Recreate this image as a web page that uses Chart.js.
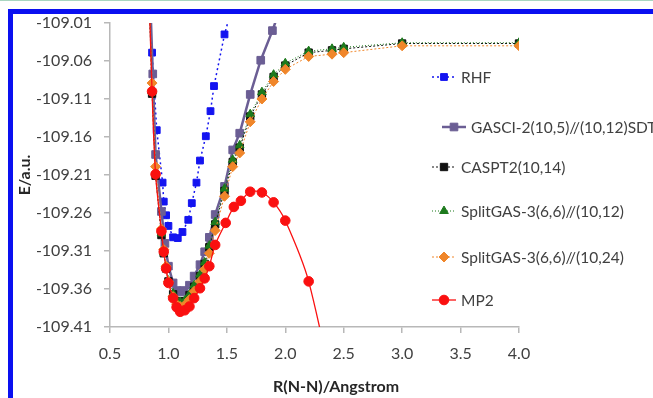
<!DOCTYPE html>
<html>
<head>
<meta charset="utf-8">
<script src="https://cdn.jsdelivr.net/npm/chart.js@4.4.1/dist/chart.umd.min.js"></script>
<style>
  html, body { margin: 0; padding: 0; background: #fff; }
  #wrap { position: relative; width: 653px; height: 398px; overflow: hidden; }
  canvas { position: absolute; left: 0; top: 0; }
  .edge { position: absolute; background: #0a10f0; }
  #topline { position: absolute; left: 0; top: 0; width: 653px; height: 1px; background: #a9d6c0; }
</style>
</head>
<body>
<div id="wrap">
  <canvas id="grafico" width="653" height="398"></canvas>
  <div id="topline"></div>
  <div class="edge" style="left:8px;top:9px;width:645px;height:5px"></div>
  <div class="edge" style="left:8px;top:9px;width:5px;height:389px"></div>
</div>
<script>
// eixos
const xTicks = [0.5, 1.0, 1.5, 2.0, 2.5, 3.0, 3.5, 4.0];
const yTicks = [-109.41, -109.36, -109.31, -109.26, -109.21, -109.16, -109.11, -109.06, -109.01];

const nomes = ['RHF', 'GASCI-2(10,5)//(10,12)SDT', 'CASPT2(10,14)', 'SplitGAS-3(6,6)//(10,12)', 'SplitGAS-3(6,6)//(10,24)', 'MP2'];

// RHF
const rhfR = [0.86, 0.90, 0.95, 0.96, 0.98, 1.00, 1.04, 1.08, 1.12, 1.17, 1.20, 1.24, 1.27, 1.32, 1.36, 1.39, 1.48, 1.60];
const rhfE = [-109.049, -109.151, -109.220, -109.245, -109.263, -109.277, -109.292, -109.293, -109.285, -109.269, -109.247, -109.220, -109.191, -109.159, -109.126, -109.093, -109.025, -108.958];

// GASCI
const gasciR = [0.80, 0.866, 0.89, 0.94, 0.97, 1.00, 1.04, 1.07, 1.10, 1.13, 1.18, 1.22, 1.27, 1.31, 1.35, 1.40, 1.48, 1.55, 1.61, 1.70, 1.79, 1.89, 2.00];
const gasciE = [-108.78, -109.077, -109.183, -109.258, -109.300, -109.330, -109.352, -109.362, -109.364, -109.362, -109.355, -109.343, -109.328, -109.311, -109.292, -109.262, -109.225, -109.177, -109.155, -109.104, -109.059, -109.020, -108.972];

// CASPT2
const casR = [0.80, 0.86, 0.89, 0.94, 0.96, 0.98, 1.00, 1.04, 1.07, 1.10, 1.14, 1.18, 1.22, 1.27, 1.31, 1.35, 1.40, 1.48, 1.55, 1.61, 1.70, 1.80, 1.90, 2.00, 2.20, 2.40, 2.50, 3.00, 4.00];
const casE = [-108.80, -109.103, -109.211, -109.289, -109.313, -109.333, -109.350, -109.367, -109.376, -109.378, -109.376, -109.368, -109.357, -109.343, -109.327, -109.305, -109.275, -109.231, -109.193, -109.174, -109.133, -109.104, -109.081, -109.066, -109.049, -109.046, -109.044, -109.037, -109.037];

// SplitGAS (10,12)
const sg12R = [0.80, 0.86, 0.89, 0.94, 0.96, 0.98, 1.00, 1.04, 1.07, 1.10, 1.14, 1.18, 1.22, 1.27, 1.31, 1.35, 1.40, 1.48, 1.55, 1.61, 1.70, 1.80, 1.90, 2.00, 2.20, 2.40, 2.50, 3.00, 4.00];
const sg12E = [-108.80, -109.100, -109.208, -109.287, -109.312, -109.332, -109.349, -109.366, -109.375, -109.377, -109.375, -109.367, -109.355, -109.341, -109.325, -109.303, -109.272, -109.228, -109.190, -109.171, -109.130, -109.101, -109.078, -109.063, -109.047, -109.044, -109.042, -109.036, -109.036];

// SplitGAS (10,24)
const sg24R = [0.80, 0.86, 0.89, 0.94, 0.96, 0.98, 1.00, 1.04, 1.07, 1.10, 1.14, 1.18, 1.22, 1.27, 1.31, 1.35, 1.40, 1.48, 1.55, 1.61, 1.70, 1.80, 1.90, 2.00, 2.20, 2.40, 2.50, 3.00, 4.00];
const sg24E = [-108.79, -109.089, -109.199, -109.281, -109.308, -109.330, -109.350, -109.370, -109.380, -109.383, -109.381, -109.374, -109.363, -109.350, -109.334, -109.313, -109.283, -109.238, -109.199, -109.181, -109.140, -109.110, -109.087, -109.071, -109.054, -109.051, -109.049, -109.040, -109.040];

// MP2
const mp2R = [0.80, 0.86, 0.89, 0.94, 0.96, 0.98, 1.00, 1.04, 1.07, 1.10, 1.14, 1.18, 1.22, 1.27, 1.31, 1.35, 1.40, 1.49, 1.56, 1.62, 1.70, 1.80, 1.90, 2.00, 2.20, 2.50];
const mp2E = [-108.80, -109.100, -109.209, -109.284, -109.311, -109.333, -109.352, -109.372, -109.384, -109.390, -109.388, -109.383, -109.372, -109.359, -109.346, -109.330, -109.302, -109.273, -109.252, -109.244, -109.232, -109.233, -109.246, -109.270, -109.350, -109.560];

const pontos = (rs, es) => rs.map((r, i) => ({ x: r, y: es[i] }));

const fonte = 'Lato, "Open Sans", sans-serif';
const corTexto = '#404040';
const corEixo = '#b8b8b8';

function serie(i, dados, cor, estilo, raio, largura, tracejado, ordem, tensao) {
  return {
    label: nomes[i],
    data: dados,
    borderColor: cor,
    backgroundColor: cor,
    pointBackgroundColor: cor,
    pointBorderColor: cor,
    pointBorderWidth: 1,
    pointStyle: estilo,
    pointRadius: raio,
    pointHoverRadius: raio,
    borderWidth: largura,
    borderDash: tracejado,
    tension: tensao || 0,
    order: ordem,
    showLine: true
  };
}

const datasets = [
  serie(0, pontos(rhfR, rhfE), '#1414f0', 'rect', 4.8, 1.5, [2, 3], 6),
  serie(1, pontos(gasciR, gasciE), '#6b5e94', 'rect', 5.4, 2.5, [], 5),
  serie(2, pontos(casR, casE), '#111111', 'rect', 5.2, 1, [2, 2], 4),
  serie(3, pontos(sg12R, sg12E), '#1d7a1d', 'triangle', 5, 1, [1, 2], 3),
  serie(4, pontos(sg24R, sg24E), '#f0862a', 'rectRot', 5, 1, [2, 2], 2),
  serie(5, pontos(mp2R, mp2E), '#fa1010', 'circle', 4.8, 1.3, [], 1, 0.3)
];

// legenda e titulos dos eixos desenhados a mao
const legendaY = [77, 127, 167, 211, 257, 300];
const pluginLegenda = {
  id: 'legendaExcel',
  afterDraw(chart) {
    const ctx = chart.ctx;
    ctx.save();
    datasets.forEach((ds, i) => {
      const y = legendaY[i];
      const x1 = i === 1 ? 442 : 432;
      const x2 = x1 + 24;
      ctx.beginPath();
      ctx.strokeStyle = ds.borderColor;
      ctx.lineWidth = ds.borderWidth;
      ctx.setLineDash(ds.borderDash);
      ctx.moveTo(x1, y);
      ctx.lineTo(x2, y);
      ctx.stroke();
      ctx.setLineDash([]);
      ctx.fillStyle = ds.borderColor;
      ctx.strokeStyle = ds.borderColor;
      ctx.lineWidth = 1;
      Chart.helpers.drawPoint(ctx, { pointStyle: ds.pointStyle, radius: ds.pointRadius, rotation: 0, borderWidth: 1 }, (x1 + x2) / 2, y);
      ctx.fillStyle = corTexto;
      ctx.font = '15.5px ' + fonte;
      ctx.textBaseline = 'middle';
      ctx.textAlign = 'left';
      ctx.fillText(ds.label, x2 + 5, y + 1);
    });

    ctx.fillStyle = '#262626';
    ctx.font = 'bold 16px ' + fonte;
    ctx.textAlign = 'center';
    ctx.textBaseline = 'middle';
    ctx.fillText('R(N-N)/Angstrom', 336, 387);
    ctx.translate(25, 175);
    ctx.rotate(-Math.PI / 2);
    ctx.fillText('E/a.u.', 0, 0);
    ctx.restore();
  }
};

new Chart(document.getElementById('grafico'), {
  type: 'scatter',
  data: { datasets },
  options: {
    responsive: false,
    devicePixelRatio: 1,
    animation: false,
    events: [],
    layout: { padding: { left: 0, top: 23, right: 134, bottom: 0 } },
    plugins: {
      legend: { display: false },
      tooltip: { enabled: false }
    },
    scales: {
      x: {
        type: 'linear',
        min: 0.5,
        max: 4.0,
        afterBuildTicks: s => { s.ticks = xTicks.map(v => ({ value: v })); },
        afterFit: s => { s.height = 71; },
        ticks: {
          color: corTexto,
          font: { family: fonte, size: 16 },
          padding: 11,
          callback: v => v.toFixed(1)
        },
        grid: { display: true, drawOnChartArea: false, drawTicks: true, tickLength: 6, color: corEixo, lineWidth: 1.5 },
        border: { display: true, color: corEixo, width: 1.5 }
      },
      y: {
        type: 'linear',
        min: -109.41,
        max: -109.01,
        afterBuildTicks: s => { s.ticks = yTicks.map(v => ({ value: v })); },
        afterFit: s => { s.width = 110; },
        ticks: {
          color: corTexto,
          font: { family: fonte, size: 16 },
          padding: 12,
          callback: v => v.toFixed(2)
        },
        grid: { display: true, drawOnChartArea: false, drawTicks: true, tickLength: 6, color: corEixo, lineWidth: 1.5 },
        border: { display: true, color: corEixo, width: 1.5 }
      }
    }
  },
  plugins: [pluginLegenda]
});
</script>
</body>
</html>
